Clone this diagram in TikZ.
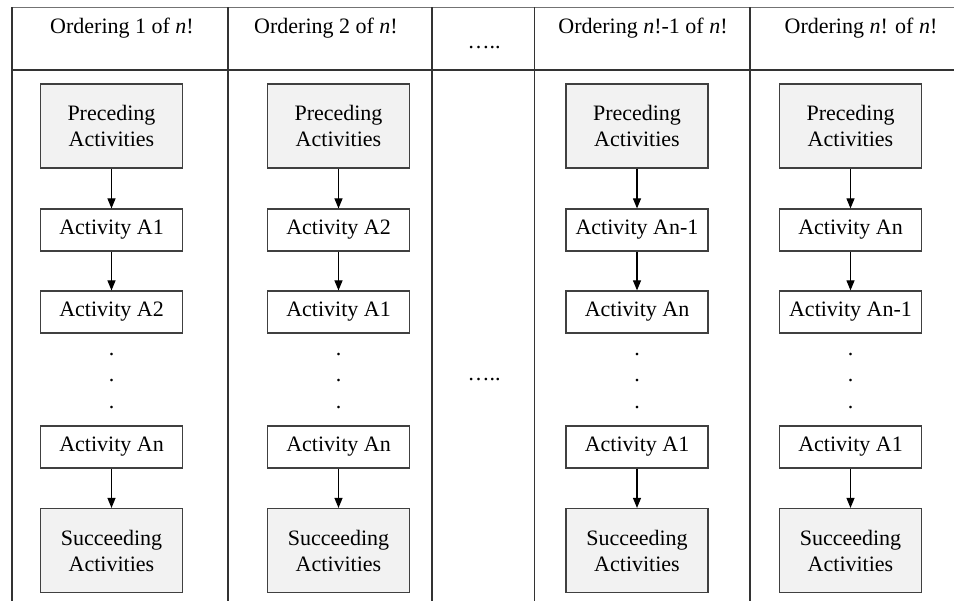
\documentclass[tikz,border=0pt]{standalone}
\usepackage{fontspec}
\setmainfont{Liberation Serif}
\usetikzlibrary{arrows.meta}
\definecolor{boxfill}{HTML}{F2F2F2}
\definecolor{edge}{HTML}{404040}
\begin{document}
\begin{tikzpicture}[x=0.75pt,y=-0.75pt,
  every node/.style={font=\fontsize{16.5}{19.5}\selectfont, inner sep=0pt},
  groupbox/.style={draw=edge, line width=0.9pt, fill=boxfill, minimum width=106.5pt,
    minimum height=63pt, align=center},
  actbox/.style={draw=edge, line width=0.9pt, fill=white, minimum width=106.5pt,
    minimum height=31.5pt},
  flow/.style={draw=black, line width=0.8pt, -{Triangle[width=6pt,length=7.5pt]}},
  grid/.style={draw=black!80, line width=0.8pt},
  hdr/.style={anchor=base},
  vdot/.style={anchor=base}]
\useasboundingbox (0,0) rectangle (954,601);

% table frame
\draw[draw=black!55, line width=1.4pt] (12,7.5) -- (954,7.5);
\draw[grid] (12,70) -- (954,70);
\foreach \xx in {12,228,432,534.5,750}
  \draw[grid] (\xx,7) -- (\xx,601);

% column headers
\node[hdr] (h1) at (122,33) {Ordering 1 of \textit{n}!};
\node[hdr] (h2) at (326,33) {Ordering 2 of \textit{n}!};
\node[hdr] (h3) at (484,48) {…..};
\node[hdr] (h4) at (643,33) {Ordering \textit{n}!-1 of \textit{n}!};
\node[hdr] (h5) at (861,33) {Ordering \textit{n}! of \textit{n}!};

% gap between orderings
\node[hdr] (gap) at (484,380) {…..};

% ordering 1
\node[groupbox] (p1) at (111.5,126) {Preceding\\Activities};
\node[actbox] (a11) at (111.5,230) {Activity A1};
\node[actbox] (a12) at (111.5,312) {Activity A2};
\node[actbox] (a13) at (111.5,447) {Activity An};
\node[groupbox] (s1) at (111.5,550.5) {Succeeding\\Activities};

% ordering 2
\node[groupbox] (p2) at (338.5,126) {Preceding\\Activities};
\node[actbox] (a21) at (338.5,230) {Activity A2};
\node[actbox] (a22) at (338.5,312) {Activity A1};
\node[actbox] (a23) at (338.5,447) {Activity An};
\node[groupbox] (s2) at (338.5,550.5) {Succeeding\\Activities};

% ordering n!-1
\node[groupbox] (p4) at (637,126) {Preceding\\Activities};
\node[actbox] (a41) at (637,230) {Activity An-1};
\node[actbox] (a42) at (637,312) {Activity An};
\node[actbox] (a43) at (637,447) {Activity A1};
\node[groupbox] (s4) at (637,550.5) {Succeeding\\Activities};

% ordering n!
\node[groupbox] (p5) at (850.5,126) {Preceding\\Activities};
\node[actbox] (a51) at (850.5,230) {Activity An};
\node[actbox] (a52) at (850.5,312) {Activity An-1};
\node[actbox] (a53) at (850.5,447) {Activity A1};
\node[groupbox] (s5) at (850.5,550.5) {Succeeding\\Activities};

% arrows and vertical ellipses
\foreach \c/\xx in {1/111.5,2/338.5,4/637,5/850.5}{
  \draw[flow] (p\c) -- (a\c1);
  \draw[flow] (a\c1) -- (a\c2);
  \draw[flow] (a\c3) -- (s\c);
  \node[vdot] (d\c a) at (\xx,355) {.};
  \node[vdot] (d\c b) at (\xx,381) {.};
  \node[vdot] (d\c c) at (\xx,408) {.};
}
\end{tikzpicture}
\end{document}
